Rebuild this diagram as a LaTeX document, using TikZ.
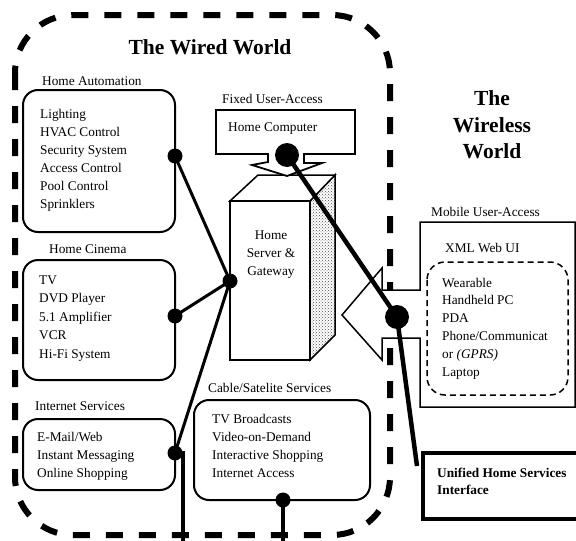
\documentclass[tikz,border=0pt]{standalone}
\usepackage{fontspec}
\setmainfont{Liberation Serif}
\usetikzlibrary{patterns}
\begin{document}
\begin{tikzpicture}[x=1pt,y=-1pt,
  lbl/.style={font=\fontsize{13.3}{16}\selectfont, inner sep=0pt, anchor=base west},
  lblc/.style={font=\fontsize{13.3}{16}\selectfont, inner sep=0pt, anchor=base},
  lblb/.style={font=\fontsize{13.3}{16}\selectfont\bfseries, inner sep=0pt, anchor=base west},
  titl/.style={font=\fontsize{21.5}{26}\selectfont\bfseries, inner sep=0pt, anchor=base},
  groupbox/.style={draw, line width=2pt, rounded corners=15pt},
  dot/.style={circle, fill=black, inner sep=0pt, minimum size=15pt},
  bigdot/.style={circle, fill=black, inner sep=0pt, minimum size=24pt},
  link/.style={line width=3pt},
  trunk/.style={line width=4.5pt},
  wired/.style={line width=6pt, dash pattern=on 17pt off 16pt, rounded corners=58pt},
  callout/.style={draw, fill=white, line width=1.8pt, line join=miter},
]
\useasboundingbox (0,0) rectangle (576,541);

% wired world border
\draw[wired] (15,15) rectangle (390,535);

% titles
\node[titl] (wiredtitle) at (210,54) {The Wired World};
\node[titl] (wl1) at (492,105) {The};
\node[titl] (wl2) at (492,132) {Wireless};
\node[titl] (wl3) at (492,158) {World};

% group boxes
\draw[groupbox] (23,90) rectangle (175,232);
\draw[groupbox] (23,260) rectangle (175,380);
\draw[groupbox] (23,419) rectangle (175,490);
\draw[groupbox] (194,400) rectangle (370,500);

% group labels
\node[lbl] (halbl) at (42,85) {Home Automation};
\node[lbl] (hclbl) at (49,253) {Home Cinema};
\node[lbl] (islbl) at (35,410) {Internet Services};
\node[lbl] (cablbl) at (208,392) {Cable/Satelite Services};
\node[lbl] (fixlbl) at (222,103) {Fixed User-Access};

% items
\foreach \t [count=\i from 0] in {Lighting,HVAC Control,Security System,Access Control,Pool Control,Sprinklers}
  \node[lbl] (ha\i) at (40,118+18*\i) {\t};
\foreach \t [count=\i from 0] in {TV,DVD Player,5.1 Amplifier,VCR,Hi-Fi System}
  \node[lbl] (hc\i) at (39,284+18.5*\i) {\t};
\foreach \t [count=\i from 0] in {E-Mail/Web,Instant Messaging,Online Shopping}
  \node[lbl] (is\i) at (37,441+18*\i) {\t};
\foreach \t [count=\i from 0] in {TV Broadcasts,Video-on-Demand,Interactive Shopping,Internet Access}
  \node[lbl] (cab\i) at (212,423+18.3*\i) {\t};

% home server
\fill[white] (310,201) -- (335,175) -- (335,335) -- (310,360) -- cycle;
\draw[line width=1.5pt, pattern=crosshatch dots, pattern color=black!70] (310,201) -- (335,175) -- (335,335) -- (310,360) -- cycle;
\draw[line width=1.5pt, fill=white] (230,201) -- (258,175) -- (335,175) -- (310,201) -- cycle;
\draw[line width=1.5pt, fill=white] (230,201) rectangle (310,360);
\node[lblc] (srv1) at (271,239) {Home};
\node[lblc] (srv2) at (271,257) {Server \&};
\node[lblc] (srv3) at (271,275) {Gateway};

% home computer callout
\draw[callout] (216,110) -- (355,110) -- (355,154) -- (304,154) -- (304,163) -- (322,163)
  -- (287,176) -- (252,165) -- (268,162) -- (268,154) -- (216,154) -- cycle;
\node[lbl] (hcomp) at (228,131) {Home Computer};

% mobile callout
\draw[callout, line width=1.5pt] (420,290) -- (420,222) -- (575,222) -- (575,407) -- (420,407)
  -- (420,338) -- (382,338) -- (382,360) -- (342,315) -- (382,268) -- (382,290) -- cycle;
\node[lbl] (moblbl) at (431,216) {Mobile User-Access};
\node[lbl] (xmllbl) at (445,252) {XML Web UI};
\draw[line width=1.5pt, dash pattern=on 6pt off 4pt, rounded corners=18pt] (427,262) rectangle (568,395);
\foreach \t [count=\i from 0] in {Wearable,Handheld PC,PDA,Phone/Communicat,{or \textit{(GPRS)}},Laptop}
  \node[lbl] (xml\i) at (442,287+17.8*\i) {\t};

% unified interface
\draw[line width=4pt] (577,453) -- (423,453) -- (423,519) -- (577,519);
\node[lblb] (uni1) at (437,477) {Unified Home Services};
\node[lblb] (uni2) at (437,494) {Interface};

% dots
\node[dot] (hadot) at (175,156) {};
\node[dot] (hcdot) at (175,316) {};
\node[dot] (isdot) at (175,453) {};
\node[dot] (cabdot) at (283,500) {};
\node[dot] (hub) at (230,281) {};
\node[bigdot] (compdot) at (287,155) {};
\node[bigdot] (mobdot) at (397,317) {};
\coordinate (isend) at (183,541);
\coordinate (cabend) at (283,541);
\coordinate (uniend) at (417,466);

% connectors
\draw[link] (hadot.center) -- (hub.center);
\draw[link] (hcdot.center) -- (hub.center);
\draw[link] (isdot.center) -- (hub.center);
\draw[trunk] (isdot.center) -| (isend);
\draw[trunk] (cabdot.center) -- (cabend);
\draw[trunk] (compdot.center) -- (mobdot.center);
\draw[trunk] (mobdot.center) -- (uniend);
\end{tikzpicture}
\end{document}
